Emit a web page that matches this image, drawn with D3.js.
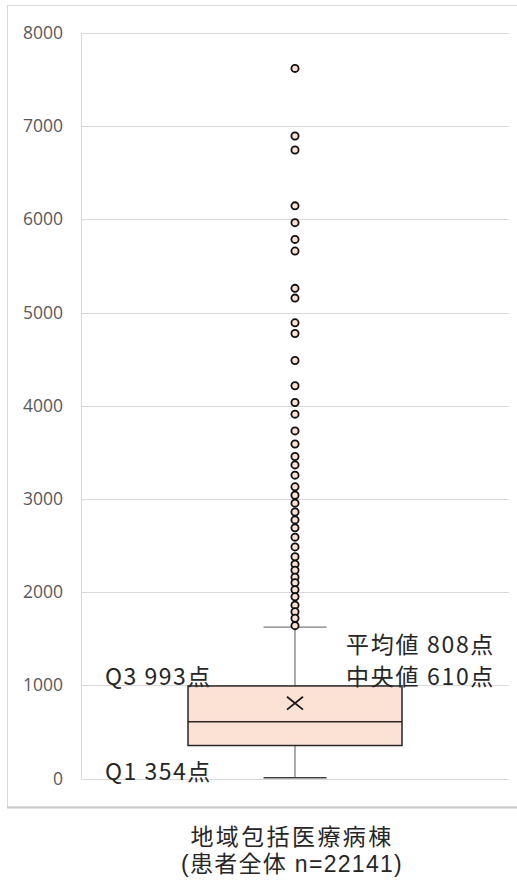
<!DOCTYPE html>
<html>
<head>
<meta charset="utf-8">
<script src="https://cdn.jsdelivr.net/npm/d3@7"></script>
<style>
  html, body { margin: 0; padding: 0; background: #ffffff; }
  svg { display: block; }
</style>
</head>
<body>
<svg id="chart" width="517" height="883"></svg>
<script>
// Category and summary statistics (points)
const categories = ["地域包括医療病棟"];
const categorySub = ["(患者全体 n=22141)"];
const q1 = [354];
const median = [610];
const q3 = [993];
const mean = [808];
const whiskerLow = [8];
const whiskerHigh = [1625];
const outliers = [
  7620, 6895, 6745, 6145, 5965, 5785, 5660, 5260, 5155, 4890, 4775,
  4485, 4215, 4035, 3910, 3730, 3590, 3455, 3365, 3255,
  3130, 3040, 2955, 2860, 2775, 2690, 2590, 2485, 2380, 2300,
  2235, 2160, 2100, 2025, 1950, 1860, 1790, 1720, 1640
];
const yTicks = [0, 1000, 2000, 3000, 4000, 5000, 6000, 7000, 8000];

const svg = d3.select("#chart");
const plot = { left: 81, right: 509, top: 33, bottom: 778.5 };

const y = d3.scaleLinear().domain([0, 8000]).range([plot.bottom, plot.top]);
const x = d3.scaleBand().domain(categories).range([plot.left, plot.right])
  .paddingInner(0.5).paddingOuter(0.25);

// Outer chart frame
svg.append("rect")
  .attr("x", 7.5).attr("y", 5.5)
  .attr("width", 520).attr("height", 801.5)
  .attr("fill", "none").attr("stroke", "#d9d9d9").attr("stroke-width", 1);
svg.append("line")
  .attr("x1", 7).attr("x2", 517).attr("y1", 807.5).attr("y2", 807.5)
  .attr("stroke", "#c8c8c8").attr("stroke-width", 2);

// Horizontal gridlines
svg.append("g")
  .selectAll("line")
  .data(yTicks)
  .join("line")
  .attr("x1", plot.left).attr("x2", plot.right)
  .attr("y1", d => Math.round(y(d)) + 0.5).attr("y2", d => Math.round(y(d)) + 0.5)
  .attr("stroke", "#d9d9d9").attr("stroke-width", 1);

// Left plot-area edge
svg.append("line")
  .attr("x1", plot.left + 0.5).attr("x2", plot.left + 0.5)
  .attr("y1", plot.top).attr("y2", plot.bottom)
  .attr("stroke", "#d9d9d9").attr("stroke-width", 1);

// Y axis labels
const yAxis = d3.axisLeft(y).tickValues(yTicks).tickSize(0).tickPadding(18).tickFormat(d3.format("d"));
const yg = svg.append("g").attr("transform", `translate(${plot.left},0)`).call(yAxis);
yg.select(".domain").remove();
yg.selectAll("text")
  .attr("fill", "#595959")
  .style("font-family", "'Open Sans', 'Liberation Sans', sans-serif")
  .style("font-size", "17.5px");

const g = svg.append("g");
categories.forEach((c, i) => {
  const cx = x(c) + x.bandwidth() / 2;
  const capHalf = 31.5;

  // Whiskers
  g.append("line")
    .attr("x1", cx).attr("x2", cx)
    .attr("y1", y(whiskerHigh[i])).attr("y2", y(q3[i]))
    .attr("stroke", "#7f7f7f").attr("stroke-width", 1.3);
  g.append("line")
    .attr("x1", cx).attr("x2", cx)
    .attr("y1", y(q1[i])).attr("y2", y(whiskerLow[i]))
    .attr("stroke", "#7f7f7f").attr("stroke-width", 1.3);
  g.append("line")
    .attr("x1", cx - capHalf).attr("x2", cx + capHalf)
    .attr("y1", y(whiskerHigh[i])).attr("y2", y(whiskerHigh[i]))
    .attr("stroke", "#7f7f7f").attr("stroke-width", 1.3);
  g.append("line")
    .attr("x1", cx - capHalf).attr("x2", cx + capHalf)
    .attr("y1", y(whiskerLow[i])).attr("y2", y(whiskerLow[i]))
    .attr("stroke", "#404040").attr("stroke-width", 1.3);

  // Box
  g.append("rect")
    .attr("x", x(c)).attr("width", x.bandwidth())
    .attr("y", y(q3[i])).attr("height", y(q1[i]) - y(q3[i]))
    .attr("fill", "#fbe2d5").attr("stroke", "#262626").attr("stroke-width", 1.5);

  // Median
  g.append("line")
    .attr("x1", x(c)).attr("x2", x(c) + x.bandwidth())
    .attr("y1", y(median[i])).attr("y2", y(median[i]))
    .attr("stroke", "#262626").attr("stroke-width", 1.5);

  // Mean marker
  const my = y(mean[i]), s = 8;
  g.append("path")
    .attr("d", `M${cx - s},${my - s * 0.8}L${cx + s},${my + s * 0.8}M${cx + s},${my - s * 0.8}L${cx - s},${my + s * 0.8}`)
    .attr("stroke", "#1a1a1a").attr("stroke-width", 1.8).attr("fill", "none");

  // Outliers
  g.selectAll(null)
    .data(outliers)
    .join("circle")
    .attr("cx", cx).attr("cy", d => y(d))
    .attr("r", 3.6)
    .attr("fill", "#fbe2d5").attr("stroke", "#111").attr("stroke-width", 1.8);

  // Category label, two lines
  const label = svg.append("text")
    .attr("text-anchor", "middle")
    .attr("fill", "#262626")
    .style("font-family", "'Liberation Sans', 'Noto Sans CJK JP', sans-serif")
    .style("font-size", "23px");
  label.append("tspan")
    .attr("x", cx - 3).attr("y", 845)
    .style("letter-spacing", "2.4px")
    .text(c);
  label.append("tspan")
    .attr("x", cx - 3).attr("y", 872)
    .style("letter-spacing", "1.3px")
    .text(categorySub[i]);
});

// Statistic annotations
const annFont = "'Noto Sans CJK JP', sans-serif";
const ann = [
  { text: `平均値 ${mean[0]}点`, x: 346, y: 653, ls: 1.7 },
  { text: `中央値 ${median[0]}点`, x: 346, y: 685, ls: 1.7 },
  { text: `Q3 ${q3[0]}点`, x: 105, y: 685, ls: 1.5 },
  { text: `Q1 ${q1[0]}点`, x: 105, y: 780, ls: 1.5 }
];
svg.append("g")
  .selectAll("text")
  .data(ann)
  .join("text")
  .attr("x", d => d.x).attr("y", d => d.y)
  .attr("fill", "#262626")
  .style("font-family", annFont)
  .style("font-size", "23px")
  .style("letter-spacing", d => `${d.ls}px`)
  .text(d => d.text);
</script>
</body>
</html>
